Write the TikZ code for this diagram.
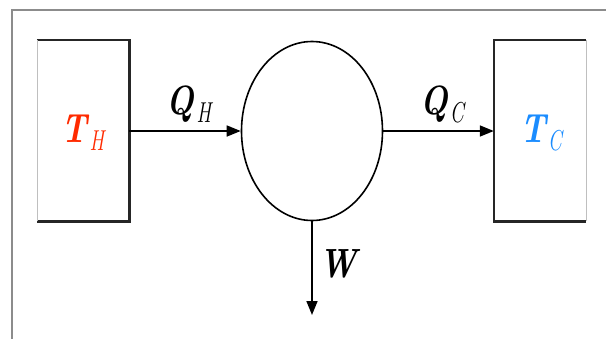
\documentclass[tikz,border=0pt]{standalone}
\usetikzlibrary{arrows.meta,shapes.geometric}
\definecolor{hotred}{HTML}{FF2A00}
\definecolor{coldblue}{HTML}{1A8CFF}
\definecolor{framegray}{HTML}{8C8C8C}
\newcommand{\mainlet}[1]{\scalebox{0.95}[1.2]{\fontsize{34}{38}\selectfont\bfseries\itshape #1}}
\newcommand{\sublet}[1]{\raisebox{-8pt}{\scalebox{0.8}[1.15]{\fontsize{25}{28}\selectfont\itshape #1}}}
\newcommand{\biglab}[2]{\mainlet{#1}\kern2pt\sublet{#2}}
\begin{document}
\begin{tikzpicture}[x=1pt,y=-1pt,
  reservoir/.style={minimum width=92pt,minimum height=181pt,inner sep=0pt},
  wall/.style={line width=2.6pt,black!85},
  faint/.style={line width=0.6pt,black!25},
  flow/.style={line width=1.6pt,-{Triangle[length=14pt,width=11pt]}},
  lab/.style={inner sep=0pt,anchor=center}]
\useasboundingbox (0,0) rectangle (606,338);
\draw[framegray,line width=2pt] (12,345) -- (12,10) -- (615,10);
\node[reservoir] (hot) at (83,130.5) {};
\node[reservoir] (cold) at (540,130.5) {};
\draw[wall] (hot.north west) -- (hot.north east) -- (hot.south east) -- (hot.south west);
\draw[faint] (hot.north west) -- (hot.south west);
\draw[wall] (cold.north east) -- (cold.north west) -- (cold.south west) -- (cold.south east);
\draw[faint] (cold.north east) -- (cold.south east);
\node[ellipse,draw,line width=1.6pt,minimum width=141pt,minimum height=179pt,inner sep=0pt] (engine) at (312,131) {};
\coordinate (wend) at (312,315);
\draw[flow] (hot.east |- engine.west) -- (engine.west);
\draw[flow] (engine.east) -- (cold.west |- engine.east);
\draw[flow] (engine.south) -- (wend);
\node[lab,text=hotred] (th) at (83,133) {\biglab{T}{H}};
\node[lab,text=coldblue] (tc) at (541,133) {\biglab{T}{C}};
\node[lab] (qh) at (189,104) {\biglab{Q}{H}};
\node[lab] (qc) at (442,104) {\biglab{Q}{C}};
\node[lab] (w) at (338,264) {\mainlet{W}};
\end{tikzpicture}
\end{document}
